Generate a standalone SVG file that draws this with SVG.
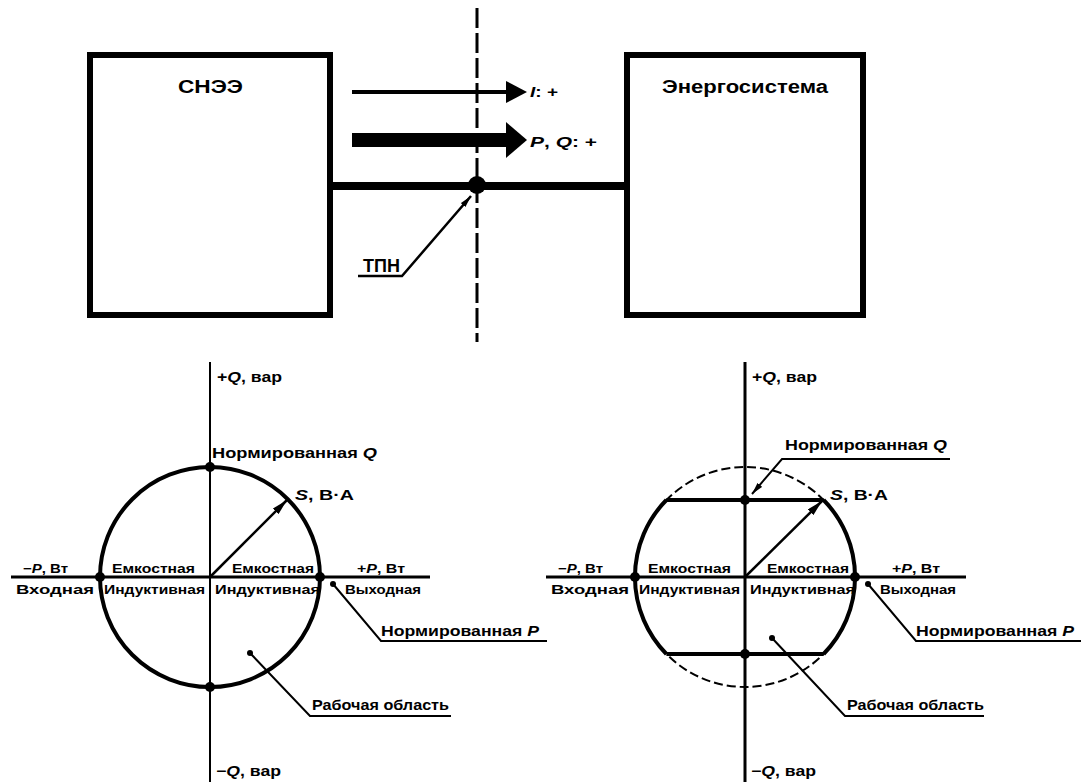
<svg xmlns="http://www.w3.org/2000/svg" width="1081" height="782" viewBox="0 0 1081 782">
<defs>
<style>
text{font-family:"Liberation Sans",Arial,sans-serif;font-weight:bold;fill:#000}
.t18{font-size:18px}.t15{font-size:15px}.t14{font-size:14px}.t13{font-size:13px}.t12{font-size:12px}
.box{fill:#fff;stroke:#000;stroke-width:6}
.ln{fill:none;stroke:#000}
.i{font-style:italic}
</style>
<marker id="ah" viewBox="0 0 16 8" refX="16" refY="4" markerWidth="16" markerHeight="8" markerUnits="userSpaceOnUse" orient="auto">
<path d="M0,0 L16,4 L0,8 Z" fill="#000"/>
</marker>
<marker id="ahs" viewBox="0 0 12 6" refX="12" refY="3" markerWidth="12" markerHeight="6" markerUnits="userSpaceOnUse" orient="auto">
<path d="M0,0 L12,3 L0,6 Z" fill="#000"/>
</marker>
</defs>
<rect width="1081" height="782" fill="#fff"/>

<g id="connectors">
<line class="ln" x1="330" y1="186" x2="627" y2="186" stroke-width="8"/>
<line class="ln" x1="477" y1="8" x2="477" y2="342" stroke-width="3" stroke-dasharray="20 5"/>
<line class="ln" x1="352" y1="92" x2="510" y2="92" stroke-width="4"/>
<polygon points="506,81 527,92 506,103" fill="#000"/>
<rect x="352" y="133" width="158" height="14" fill="#000"/>
<polygon points="506,122 527,140 506,158" fill="#000"/>
<polyline class="ln" points="358,276 402,276 471,196" stroke-width="2.5" marker-end="url(#ahs)"/>
<circle cx="477" cy="185" r="9" fill="#000"/>
</g>

<g id="node-snee">
<rect class="box" x="90" y="55" width="240" height="260"/>
<text class="t18" x="178" y="93" textLength="65" lengthAdjust="spacingAndGlyphs">СНЭЭ</text>
</g>
<g id="node-energosistema">
<rect class="box" x="627" y="55" width="236" height="260"/>
<text class="t18" x="662" y="93" textLength="166" lengthAdjust="spacingAndGlyphs">Энергосистема</text>
</g>
<g id="labels-top">
<text class="t15" x="530" y="97" textLength="28" lengthAdjust="spacingAndGlyphs"><tspan class="i">I</tspan>: +</text>
<text class="t15" x="530" y="147" textLength="67" lengthAdjust="spacingAndGlyphs"><tspan class="i">P</tspan>, <tspan class="i">Q</tspan>: +</text>
<text class="t18" x="363" y="272" textLength="37" lengthAdjust="spacingAndGlyphs">ТПН</text>
</g>

<g id="diagram-left">
<line class="ln" x1="210" y1="362" x2="210" y2="782" stroke-width="2"/>
<line class="ln" x1="11" y1="577" x2="430" y2="577" stroke-width="3"/>
<circle class="ln" cx="210" cy="577" r="110" stroke-width="4"/>
<line class="ln" x1="210" y1="577" x2="287" y2="500" stroke-width="2.5" marker-end="url(#ah)"/>
<circle cx="210" cy="467" r="5"/><circle cx="210" cy="687" r="5"/>
<circle cx="100" cy="577" r="5"/><circle cx="320" cy="577" r="5"/>
<circle cx="333" cy="584" r="3"/>
<polyline class="ln" points="333,584 381,641 547,641" stroke-width="2"/>
<circle cx="250" cy="653" r="3"/>
<polyline class="ln" points="250,653 310,716 451,716" stroke-width="2"/>
<text class="t14" x="217" y="382" textLength="65" lengthAdjust="spacingAndGlyphs">+<tspan class="i">Q</tspan>, вар</text>
<text class="t15" x="212" y="458" textLength="165" lengthAdjust="spacingAndGlyphs">Нормированная <tspan class="i">Q</tspan></text>
<text class="t14" x="295" y="500" textLength="59" lengthAdjust="spacingAndGlyphs"><tspan class="i">S</tspan>, В·А</text>
<text class="t13" x="23" y="573" textLength="45" lengthAdjust="spacingAndGlyphs">−<tspan class="i">P</tspan>, Вт</text>
<text class="t12" x="112" y="573" textLength="83" lengthAdjust="spacingAndGlyphs">Емкостная</text>
<text class="t12" x="232" y="573" textLength="82" lengthAdjust="spacingAndGlyphs">Емкостная</text>
<text class="t13" x="357" y="573" textLength="48" lengthAdjust="spacingAndGlyphs">+<tspan class="i">P</tspan>, Вт</text>
<text class="t13" x="16" y="594" textLength="78" lengthAdjust="spacingAndGlyphs">Входная</text>
<text class="t12" x="104" y="594" textLength="101" lengthAdjust="spacingAndGlyphs">Индуктивная</text>
<text class="t12" x="215" y="594" textLength="105" lengthAdjust="spacingAndGlyphs">Индуктивная</text>
<text class="t13" x="345" y="594" textLength="76" lengthAdjust="spacingAndGlyphs">Выходная</text>
<text class="t15" x="381" y="636" textLength="158" lengthAdjust="spacingAndGlyphs">Нормированная <tspan class="i">P</tspan></text>
<text class="t14" x="312" y="710" textLength="137" lengthAdjust="spacingAndGlyphs">Рабочая область</text>
<text class="t14" x="216" y="776" textLength="65" lengthAdjust="spacingAndGlyphs">−<tspan class="i">Q</tspan>, вар</text>
</g>

<g id="diagram-right">
<line class="ln" x1="745" y1="362" x2="745" y2="782" stroke-width="3"/>
<line class="ln" x1="546" y1="577" x2="966" y2="577" stroke-width="3"/>
<circle class="ln" cx="745" cy="577" r="110" stroke-width="2" stroke-dasharray="9 4"/>
<path class="ln" d="M823.6,500 A110,110 0 0 1 823.6,654" stroke-width="4"/>
<path class="ln" d="M666.4,654 A110,110 0 0 1 666.4,500" stroke-width="4"/>
<line class="ln" x1="666.4" y1="500" x2="823.6" y2="500" stroke-width="4"/>
<line class="ln" x1="666.4" y1="654" x2="823.6" y2="654" stroke-width="4"/>
<line class="ln" x1="745" y1="577" x2="822" y2="501" stroke-width="2.5" marker-end="url(#ah)"/>
<circle cx="745" cy="500" r="5"/><circle cx="745" cy="654" r="5"/>
<circle cx="635" cy="577" r="5"/><circle cx="855" cy="577" r="5"/>
<polyline class="ln" points="950,459 782,459 752,494" stroke-width="2" marker-end="url(#ahs)"/>
<circle cx="868" cy="584" r="3"/>
<polyline class="ln" points="868,584 916,641 1081,641" stroke-width="2"/>
<circle cx="772" cy="638" r="3"/>
<polyline class="ln" points="772,638 845,716 984,716" stroke-width="2"/>
<text class="t14" x="752" y="382" textLength="65" lengthAdjust="spacingAndGlyphs">+<tspan class="i">Q</tspan>, вар</text>
<text class="t15" x="785" y="450" textLength="162" lengthAdjust="spacingAndGlyphs">Нормированная <tspan class="i">Q</tspan></text>
<text class="t14" x="830" y="500" textLength="58" lengthAdjust="spacingAndGlyphs"><tspan class="i">S</tspan>, В·А</text>
<text class="t13" x="558" y="573" textLength="45" lengthAdjust="spacingAndGlyphs">−<tspan class="i">P</tspan>, Вт</text>
<text class="t12" x="648" y="573" textLength="83" lengthAdjust="spacingAndGlyphs">Емкостная</text>
<text class="t12" x="767" y="573" textLength="82" lengthAdjust="spacingAndGlyphs">Емкостная</text>
<text class="t13" x="892" y="573" textLength="48" lengthAdjust="spacingAndGlyphs">+<tspan class="i">P</tspan>, Вт</text>
<text class="t13" x="551" y="594" textLength="78" lengthAdjust="spacingAndGlyphs">Входная</text>
<text class="t12" x="639" y="594" textLength="101" lengthAdjust="spacingAndGlyphs">Индуктивная</text>
<text class="t12" x="750" y="594" textLength="105" lengthAdjust="spacingAndGlyphs">Индуктивная</text>
<text class="t13" x="880" y="594" textLength="76" lengthAdjust="spacingAndGlyphs">Выходная</text>
<text class="t15" x="916" y="636" textLength="158" lengthAdjust="spacingAndGlyphs">Нормированная <tspan class="i">P</tspan></text>
<text class="t14" x="847" y="710" textLength="137" lengthAdjust="spacingAndGlyphs">Рабочая область</text>
<text class="t14" x="751" y="776" textLength="65" lengthAdjust="spacingAndGlyphs">−<tspan class="i">Q</tspan>, вар</text>
</g>
</svg>
